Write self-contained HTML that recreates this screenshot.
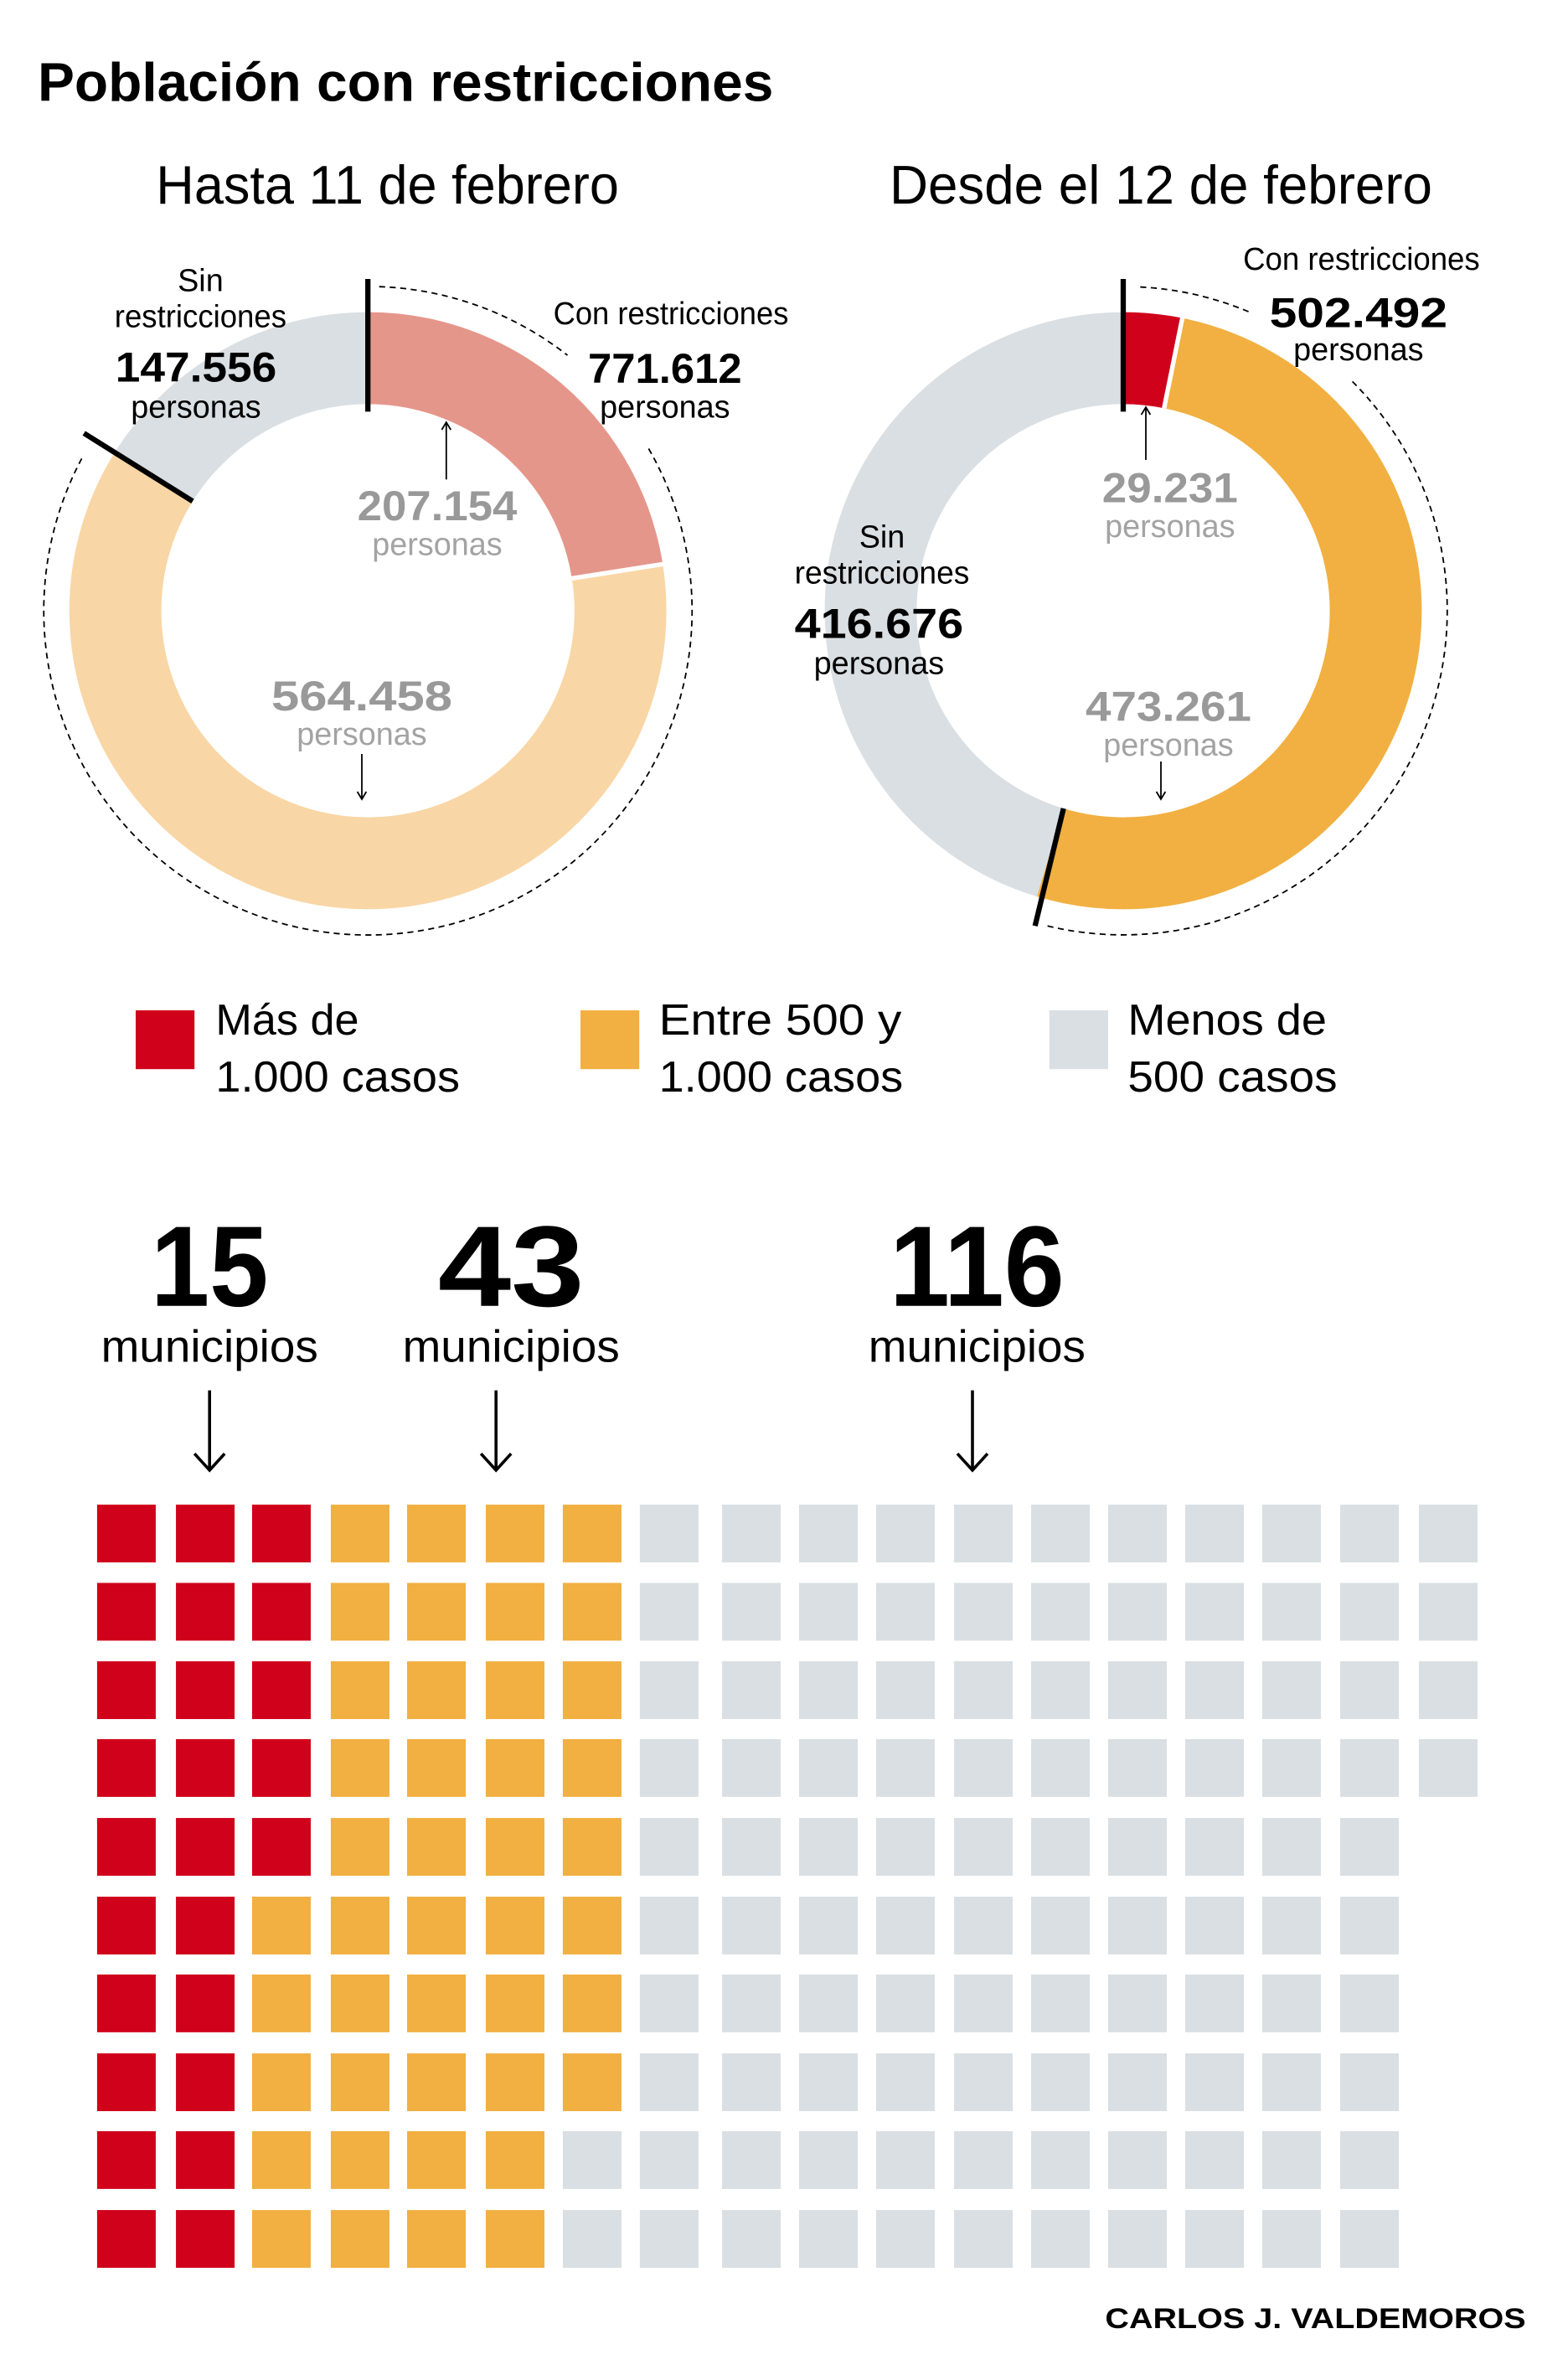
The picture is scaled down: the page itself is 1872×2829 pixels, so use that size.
<!DOCTYPE html>
<html><head><meta charset="utf-8"><style>html,body{margin:0;padding:0;background:#fff}svg{display:block}</style></head>
<body>
<svg width="1872" height="2829" viewBox="0 0 1040 1571.67" xmlns="http://www.w3.org/2000/svg" font-family="Liberation Sans, sans-serif">
<rect width="1040" height="1571.67" fill="#fff"/>
<text x="25" y="67" font-size="36" font-weight="bold" textLength="488" lengthAdjust="spacingAndGlyphs">Población con restricciones</text>
<text x="257" y="135" font-size="36" text-anchor="middle" textLength="307" lengthAdjust="spacingAndGlyphs">Hasta 11 de febrero</text>
<text x="770" y="135" font-size="36" text-anchor="middle" textLength="360" lengthAdjust="spacingAndGlyphs">Desde el 12 de febrero</text>

<!-- Left donut -->
<g transform="rotate(-90 244 405)" fill="none" stroke-width="61">
<circle cx="244" cy="405" r="167.5" stroke="#e5968a" stroke-dasharray="236.8 1052.4"/>
<circle cx="244" cy="405" r="167.5" stroke="#f9d6a5" stroke-dasharray="646.1 1052.4" stroke-dashoffset="-236.8"/>
<circle cx="244" cy="405" r="167.5" stroke="#dadfe3" stroke-dasharray="169.5 1052.4" stroke-dashoffset="-882.9"/>
</g>
<line x1="379.3" y1="383.6" x2="441" y2="373.9" stroke="#fff" stroke-width="3"/>
<line x1="244" y1="185" x2="244" y2="273" stroke="#000" stroke-width="3.5"/>
<line x1="127.8" y1="332.4" x2="55.7" y2="287.3" stroke="#000" stroke-width="3.5"/>
<g fill="none" stroke="#000" stroke-width="1" stroke-dasharray="4 3">
<path d="M251.5 190.1 A215 215 0 0 1 376.4 235.6"/>
<path d="M430.2 297.5 A215 215 0 1 1 54.2 304.1"/>
</g>
<g text-anchor="middle" font-size="21">
<text x="133" y="193">Sin</text>
<text x="133" y="217" textLength="114" lengthAdjust="spacingAndGlyphs">restricciones</text>
<text x="130" y="253" font-size="28" font-weight="bold" textLength="107" lengthAdjust="spacingAndGlyphs">147.556</text>
<text x="130" y="277">personas</text>
<text x="445" y="215" textLength="156" lengthAdjust="spacingAndGlyphs">Con restricciones</text>
<text x="441" y="254" font-size="28" font-weight="bold" textLength="102" lengthAdjust="spacingAndGlyphs">771.612</text>
<text x="441" y="277">personas</text>
<text x="290" y="345" font-size="28" font-weight="bold" fill="#999" textLength="106" lengthAdjust="spacingAndGlyphs">207.154</text>
<text x="290" y="368" fill="#a3a3a3">personas</text>
<text x="240" y="471" font-size="28" font-weight="bold" fill="#999" textLength="120" lengthAdjust="spacingAndGlyphs">564.458</text>
<text x="240" y="494" fill="#a3a3a3">personas</text>
</g>
<g stroke="#000" stroke-width="1" fill="none">
<line x1="296" y1="318" x2="296" y2="281"/><path d="M293 285 L296 280 L299 285"/>
<line x1="240" y1="500" x2="240" y2="529"/><path d="M237 525 L240 530 L243 525"/>
</g>

<!-- Right donut -->
<g transform="rotate(-90 745 405)" fill="none" stroke-width="61">
<circle cx="745" cy="405" r="167.5" stroke="#d0021b" stroke-dasharray="33.3 1052.4"/>
<circle cx="745" cy="405" r="167.5" stroke="#f1b041" stroke-dasharray="542 1052.4" stroke-dashoffset="-33.3"/>
<circle cx="745" cy="405" r="167.5" stroke="#dadfe3" stroke-dasharray="477.1 1052.4" stroke-dashoffset="-575.3"/>
</g>
<line x1="772.1" y1="270.7" x2="784.6" y2="209" stroke="#fff" stroke-width="3"/>
<line x1="745" y1="185" x2="745" y2="273" stroke="#000" stroke-width="3.5"/>
<line x1="705.4" y1="536.1" x2="686.5" y2="614" stroke="#000" stroke-width="3.5"/>
<g fill="none" stroke="#000" stroke-width="1" stroke-dasharray="4 3">
<path d="M756.3 190.3 A215 215 0 0 1 830.7 207.8"/>
<path d="M897 253 A215 215 0 0 1 693 613.6"/>
</g>
<g text-anchor="middle" font-size="21">
<text x="903" y="179" textLength="157" lengthAdjust="spacingAndGlyphs">Con restricciones</text>
<text x="901" y="217" font-size="28" font-weight="bold" textLength="118" lengthAdjust="spacingAndGlyphs">502.492</text>
<text x="901" y="239">personas</text>
<text x="776" y="333" font-size="28" font-weight="bold" fill="#999" textLength="90" lengthAdjust="spacingAndGlyphs">29.231</text>
<text x="776" y="356" fill="#a3a3a3">personas</text>
<text x="585" y="363">Sin</text>
<text x="585" y="387" textLength="116" lengthAdjust="spacingAndGlyphs">restricciones</text>
<text x="583" y="423" font-size="28" font-weight="bold" textLength="112" lengthAdjust="spacingAndGlyphs">416.676</text>
<text x="583" y="447">personas</text>
<text x="775" y="478" font-size="28" font-weight="bold" fill="#999" textLength="110" lengthAdjust="spacingAndGlyphs">473.261</text>
<text x="775" y="501" fill="#a3a3a3">personas</text>
</g>
<g stroke="#000" stroke-width="1" fill="none">
<line x1="760" y1="305" x2="760" y2="271"/><path d="M757 275 L760 270 L763 275"/>
<line x1="770" y1="505" x2="770" y2="529"/><path d="M767 525 L770 530 L773 525"/>
</g>

<!-- Legend -->
<rect x="90" y="670" width="39" height="39" fill="#d0021b"/>
<rect x="385" y="670" width="39" height="39" fill="#f1b041"/>
<rect x="696" y="670" width="39" height="39" fill="#dadfe3"/>
<g font-size="29">
<text x="143" y="686">Más de</text>
<text x="143" y="724" textLength="162" lengthAdjust="spacingAndGlyphs">1.000 casos</text>
<text x="437" y="686" textLength="161" lengthAdjust="spacingAndGlyphs">Entre 500 y</text>
<text x="437" y="724" textLength="162" lengthAdjust="spacingAndGlyphs">1.000 casos</text>
<text x="748" y="686" textLength="132" lengthAdjust="spacingAndGlyphs">Menos de</text>
<text x="748" y="724" textLength="139" lengthAdjust="spacingAndGlyphs">500 casos</text>
</g>

<!-- Big numbers -->
<g text-anchor="middle">
<text x="139" y="866" font-size="76" font-weight="bold" textLength="78" lengthAdjust="spacingAndGlyphs">15</text>
<text x="339" y="866" font-size="76" font-weight="bold" textLength="97" lengthAdjust="spacingAndGlyphs">43</text>
<text x="648" y="866" font-size="76" font-weight="bold" textLength="116" lengthAdjust="spacingAndGlyphs">116</text>
<text x="139" y="903" font-size="30" textLength="144" lengthAdjust="spacingAndGlyphs">municipios</text>
<text x="339" y="903" font-size="30" textLength="144" lengthAdjust="spacingAndGlyphs">municipios</text>
<text x="648" y="903" font-size="30" textLength="144" lengthAdjust="spacingAndGlyphs">municipios</text>
</g>
<g stroke="#000" stroke-width="2" fill="none">
<line x1="139" y1="922" x2="139" y2="975"/><path d="M129 964 L139 975 L149 964"/>
<line x1="329" y1="922" x2="329" y2="975"/><path d="M319 964 L329 975 L339 964"/>
<line x1="645" y1="922" x2="645" y2="975"/><path d="M635 964 L645 975 L655 964"/>
</g>

<!-- Grid -->
<g id="grid"></g>
<text x="1012" y="1544" font-size="19" font-weight="bold" text-anchor="end" textLength="279" lengthAdjust="spacingAndGlyphs">CARLOS J. VALDEMOROS</text>

<g>
<!-- red -->
<g fill="#d0021b">
<rect x="64.4" y="997.8" width="38.9" height="38.3"/><rect x="116.7" y="997.8" width="38.9" height="38.3"/><rect x="167.2" y="997.8" width="38.9" height="38.3"/>
<rect x="64.4" y="1049.7" width="38.9" height="38.3"/><rect x="116.7" y="1049.7" width="38.9" height="38.3"/><rect x="167.2" y="1049.7" width="38.9" height="38.3"/>
<rect x="64.4" y="1101.7" width="38.9" height="38.3"/><rect x="116.7" y="1101.7" width="38.9" height="38.3"/><rect x="167.2" y="1101.7" width="38.9" height="38.3"/>
<rect x="64.4" y="1153.3" width="38.9" height="38.3"/><rect x="116.7" y="1153.3" width="38.9" height="38.3"/><rect x="167.2" y="1153.3" width="38.9" height="38.3"/>
<rect x="64.4" y="1205.6" width="38.9" height="38.3"/><rect x="116.7" y="1205.6" width="38.9" height="38.3"/><rect x="167.2" y="1205.6" width="38.9" height="38.3"/>
<rect x="64.4" y="1257.8" width="38.9" height="38.3"/><rect x="116.7" y="1257.8" width="38.9" height="38.3"/>
<rect x="64.4" y="1309.4" width="38.9" height="38.3"/><rect x="116.7" y="1309.4" width="38.9" height="38.3"/>
<rect x="64.4" y="1361.7" width="38.9" height="38.3"/><rect x="116.7" y="1361.7" width="38.9" height="38.3"/>
<rect x="64.4" y="1413.3" width="38.9" height="38.3"/><rect x="116.7" y="1413.3" width="38.9" height="38.3"/>
<rect x="64.4" y="1465.6" width="38.9" height="38.3"/><rect x="116.7" y="1465.6" width="38.9" height="38.3"/>
</g>
<!-- orange -->
<g fill="#f1b041">
<rect x="167.2" y="1257.8" width="38.9" height="38.3"/><rect x="167.2" y="1309.4" width="38.9" height="38.3"/><rect x="167.2" y="1361.7" width="38.9" height="38.3"/><rect x="167.2" y="1413.3" width="38.9" height="38.3"/><rect x="167.2" y="1465.6" width="38.9" height="38.3"/>
<rect x="219.4" y="997.8" width="38.9" height="38.3"/><rect x="219.4" y="1049.7" width="38.9" height="38.3"/><rect x="219.4" y="1101.7" width="38.9" height="38.3"/><rect x="219.4" y="1153.3" width="38.9" height="38.3"/><rect x="219.4" y="1205.6" width="38.9" height="38.3"/><rect x="219.4" y="1257.8" width="38.9" height="38.3"/><rect x="219.4" y="1309.4" width="38.9" height="38.3"/><rect x="219.4" y="1361.7" width="38.9" height="38.3"/><rect x="219.4" y="1413.3" width="38.9" height="38.3"/><rect x="219.4" y="1465.6" width="38.9" height="38.3"/>
<rect x="270" y="997.8" width="38.9" height="38.3"/><rect x="270" y="1049.7" width="38.9" height="38.3"/><rect x="270" y="1101.7" width="38.9" height="38.3"/><rect x="270" y="1153.3" width="38.9" height="38.3"/><rect x="270" y="1205.6" width="38.9" height="38.3"/><rect x="270" y="1257.8" width="38.9" height="38.3"/><rect x="270" y="1309.4" width="38.9" height="38.3"/><rect x="270" y="1361.7" width="38.9" height="38.3"/><rect x="270" y="1413.3" width="38.9" height="38.3"/><rect x="270" y="1465.6" width="38.9" height="38.3"/>
<rect x="322.2" y="997.8" width="38.9" height="38.3"/><rect x="322.2" y="1049.7" width="38.9" height="38.3"/><rect x="322.2" y="1101.7" width="38.9" height="38.3"/><rect x="322.2" y="1153.3" width="38.9" height="38.3"/><rect x="322.2" y="1205.6" width="38.9" height="38.3"/><rect x="322.2" y="1257.8" width="38.9" height="38.3"/><rect x="322.2" y="1309.4" width="38.9" height="38.3"/><rect x="322.2" y="1361.7" width="38.9" height="38.3"/><rect x="322.2" y="1413.3" width="38.9" height="38.3"/><rect x="322.2" y="1465.6" width="38.9" height="38.3"/>
<rect x="373.3" y="997.8" width="38.9" height="38.3"/><rect x="373.3" y="1049.7" width="38.9" height="38.3"/><rect x="373.3" y="1101.7" width="38.9" height="38.3"/><rect x="373.3" y="1153.3" width="38.9" height="38.3"/><rect x="373.3" y="1205.6" width="38.9" height="38.3"/><rect x="373.3" y="1257.8" width="38.9" height="38.3"/><rect x="373.3" y="1309.4" width="38.9" height="38.3"/><rect x="373.3" y="1361.7" width="38.9" height="38.3"/>
</g>
<!-- gray -->
<g fill="#dadfe3">
<rect x="373.3" y="1413.3" width="38.9" height="38.3"/><rect x="373.3" y="1465.6" width="38.9" height="38.3"/>
</g>
<g fill="#dadfe3" id="gcols">
<g transform="translate(424.4 0)"><rect y="997.8" width="38.9" height="38.3"/><rect y="1049.7" width="38.9" height="38.3"/><rect y="1101.7" width="38.9" height="38.3"/><rect y="1153.3" width="38.9" height="38.3"/><rect y="1205.6" width="38.9" height="38.3"/><rect y="1257.8" width="38.9" height="38.3"/><rect y="1309.4" width="38.9" height="38.3"/><rect y="1361.7" width="38.9" height="38.3"/><rect y="1413.3" width="38.9" height="38.3"/><rect y="1465.6" width="38.9" height="38.3"/></g>
<g transform="translate(478.9 0)"><rect y="997.8" width="38.9" height="38.3"/><rect y="1049.7" width="38.9" height="38.3"/><rect y="1101.7" width="38.9" height="38.3"/><rect y="1153.3" width="38.9" height="38.3"/><rect y="1205.6" width="38.9" height="38.3"/><rect y="1257.8" width="38.9" height="38.3"/><rect y="1309.4" width="38.9" height="38.3"/><rect y="1361.7" width="38.9" height="38.3"/><rect y="1413.3" width="38.9" height="38.3"/><rect y="1465.6" width="38.9" height="38.3"/></g>
<g transform="translate(530 0)"><rect y="997.8" width="38.9" height="38.3"/><rect y="1049.7" width="38.9" height="38.3"/><rect y="1101.7" width="38.9" height="38.3"/><rect y="1153.3" width="38.9" height="38.3"/><rect y="1205.6" width="38.9" height="38.3"/><rect y="1257.8" width="38.9" height="38.3"/><rect y="1309.4" width="38.9" height="38.3"/><rect y="1361.7" width="38.9" height="38.3"/><rect y="1413.3" width="38.9" height="38.3"/><rect y="1465.6" width="38.9" height="38.3"/></g>
<g transform="translate(581.1 0)"><rect y="997.8" width="38.9" height="38.3"/><rect y="1049.7" width="38.9" height="38.3"/><rect y="1101.7" width="38.9" height="38.3"/><rect y="1153.3" width="38.9" height="38.3"/><rect y="1205.6" width="38.9" height="38.3"/><rect y="1257.8" width="38.9" height="38.3"/><rect y="1309.4" width="38.9" height="38.3"/><rect y="1361.7" width="38.9" height="38.3"/><rect y="1413.3" width="38.9" height="38.3"/><rect y="1465.6" width="38.9" height="38.3"/></g>
<g transform="translate(632.8 0)"><rect y="997.8" width="38.9" height="38.3"/><rect y="1049.7" width="38.9" height="38.3"/><rect y="1101.7" width="38.9" height="38.3"/><rect y="1153.3" width="38.9" height="38.3"/><rect y="1205.6" width="38.9" height="38.3"/><rect y="1257.8" width="38.9" height="38.3"/><rect y="1309.4" width="38.9" height="38.3"/><rect y="1361.7" width="38.9" height="38.3"/><rect y="1413.3" width="38.9" height="38.3"/><rect y="1465.6" width="38.9" height="38.3"/></g>
<g transform="translate(683.9 0)"><rect y="997.8" width="38.9" height="38.3"/><rect y="1049.7" width="38.9" height="38.3"/><rect y="1101.7" width="38.9" height="38.3"/><rect y="1153.3" width="38.9" height="38.3"/><rect y="1205.6" width="38.9" height="38.3"/><rect y="1257.8" width="38.9" height="38.3"/><rect y="1309.4" width="38.9" height="38.3"/><rect y="1361.7" width="38.9" height="38.3"/><rect y="1413.3" width="38.9" height="38.3"/><rect y="1465.6" width="38.9" height="38.3"/></g>
<g transform="translate(735 0)"><rect y="997.8" width="38.9" height="38.3"/><rect y="1049.7" width="38.9" height="38.3"/><rect y="1101.7" width="38.9" height="38.3"/><rect y="1153.3" width="38.9" height="38.3"/><rect y="1205.6" width="38.9" height="38.3"/><rect y="1257.8" width="38.9" height="38.3"/><rect y="1309.4" width="38.9" height="38.3"/><rect y="1361.7" width="38.9" height="38.3"/><rect y="1413.3" width="38.9" height="38.3"/><rect y="1465.6" width="38.9" height="38.3"/></g>
<g transform="translate(786.1 0)"><rect y="997.8" width="38.9" height="38.3"/><rect y="1049.7" width="38.9" height="38.3"/><rect y="1101.7" width="38.9" height="38.3"/><rect y="1153.3" width="38.9" height="38.3"/><rect y="1205.6" width="38.9" height="38.3"/><rect y="1257.8" width="38.9" height="38.3"/><rect y="1309.4" width="38.9" height="38.3"/><rect y="1361.7" width="38.9" height="38.3"/><rect y="1413.3" width="38.9" height="38.3"/><rect y="1465.6" width="38.9" height="38.3"/></g>
<g transform="translate(837.2 0)"><rect y="997.8" width="38.9" height="38.3"/><rect y="1049.7" width="38.9" height="38.3"/><rect y="1101.7" width="38.9" height="38.3"/><rect y="1153.3" width="38.9" height="38.3"/><rect y="1205.6" width="38.9" height="38.3"/><rect y="1257.8" width="38.9" height="38.3"/><rect y="1309.4" width="38.9" height="38.3"/><rect y="1361.7" width="38.9" height="38.3"/><rect y="1413.3" width="38.9" height="38.3"/><rect y="1465.6" width="38.9" height="38.3"/></g>
<g transform="translate(888.9 0)"><rect y="997.8" width="38.9" height="38.3"/><rect y="1049.7" width="38.9" height="38.3"/><rect y="1101.7" width="38.9" height="38.3"/><rect y="1153.3" width="38.9" height="38.3"/><rect y="1205.6" width="38.9" height="38.3"/><rect y="1257.8" width="38.9" height="38.3"/><rect y="1309.4" width="38.9" height="38.3"/><rect y="1361.7" width="38.9" height="38.3"/><rect y="1413.3" width="38.9" height="38.3"/><rect y="1465.6" width="38.9" height="38.3"/></g>
<g transform="translate(941.1 0)"><rect y="997.8" width="38.9" height="38.3"/><rect y="1049.7" width="38.9" height="38.3"/><rect y="1101.7" width="38.9" height="38.3"/><rect y="1153.3" width="38.9" height="38.3"/></g>
</g>
</g>
</svg>
</body></html>
